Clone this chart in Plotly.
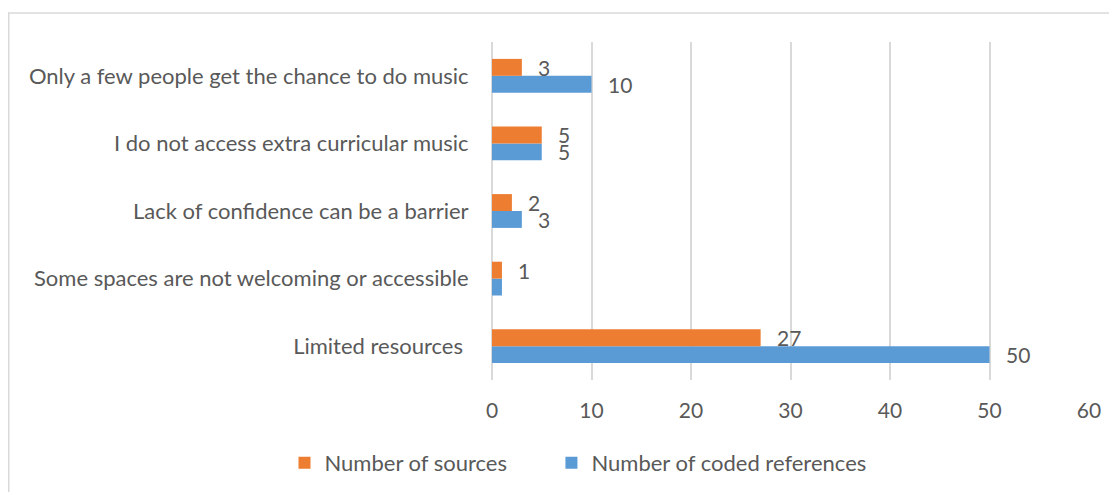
import plotly.graph_objects as go

categories = [
    "Limited resources\u00a0",
    "Some spaces are not welcoming or accessible",
    "Lack of confidence can be a barrier",
    "I do not access extra curricular music",
    "Only a few people get the chance to do music",
]
sources = [27, 1, 2, 5, 3]
coded_refs = [50, 1, 3, 5, 10]
x_ticks = [0, 10, 20, 30, 40, 50, 60]

ORANGE = "#ED7D31"
BLUE = "#5B9BD5"
TEXT = "#595959"
GRID = "#D9D9D9"
FONT = "Lato"
FS = 22

# the page body has an 8px default margin, so the figure is sized accordingly
W, H = 1109, 484
L, R, T, B = 484, 28, 34, 112
pw, ph = W - L - R, H - T - B

fig = go.Figure()
fig.add_trace(go.Bar(
    y=categories, x=coded_refs, orientation="h", name="Number of coded references",
    marker=dict(color=BLUE, line=dict(width=0)),
))
fig.add_trace(go.Bar(
    y=categories, x=sources, orientation="h",
    name="Number of sources" + "\u00a0" * 7,
    marker=dict(color=ORANGE, line=dict(width=0)),
))

# data labels
band = ph / len(categories)
bar_h = band * 0.25
annotations = []
labelled = [(coded_refs, -bar_h / 2), (sources, bar_h / 2)]
for vals, dy in labelled:
    for c, v in zip(categories, vals):
        if vals is coded_refs and c.startswith("Some spaces"):
            continue
        annotations.append(dict(
            x=v, y=c, xref="x", yref="y", text=str(v), showarrow=False,
            xanchor="left", yanchor="middle", xshift=14, yshift=dy,
            font=dict(family=FONT, size=FS - 1, color=TEXT),
        ))

# outer chart border
bx0 = (0.75 - L) / pw
by1 = 1 + (T - 5) / ph
fig.add_shape(type="rect", xref="paper", yref="paper",
              x0=bx0, x1=1.2, y0=-1.0, y1=by1,
              line=dict(color=GRID, width=1.5), layer="below")

fig.update_layout(
    width=W, height=H,
    margin=dict(l=L, r=R, t=T, b=B, autoexpand=False),
    barmode="group", bargap=0.5, bargroupgap=0,
    plot_bgcolor="white", paper_bgcolor="white",
    font=dict(family=FONT, size=FS, color=TEXT),
    showlegend=True,
    legend=dict(orientation="h", x=(570 - L) / pw, xanchor="center",
                y=(ph - (455 - T)) / ph, yanchor="middle",
                traceorder="reversed", font=dict(size=FS, color=TEXT),
                itemwidth=30),
    annotations=annotations,
    xaxis=dict(range=[0, 60], tickvals=x_ticks, showgrid=True, gridcolor=GRID,
               gridwidth=1.5, zeroline=True, zerolinecolor=GRID, zerolinewidth=1.5,
               showline=False, ticks="outside", ticklen=12, tickcolor="rgba(0,0,0,0)",
               tickfont=dict(size=FS - 1, color=TEXT), fixedrange=True),
    yaxis=dict(showgrid=False, zeroline=False, showline=False,
               ticks="outside", ticklen=18, tickcolor="rgba(0,0,0,0)",
               tickfont=dict(size=FS, color=TEXT), categoryorder="array",
               categoryarray=categories),
)

fig.write_html("out.html")
